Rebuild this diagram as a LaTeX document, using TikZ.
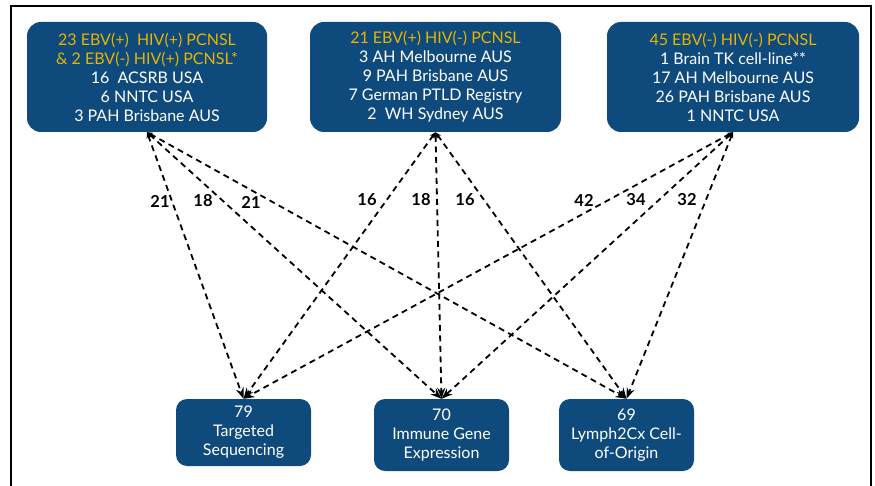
\documentclass[tikz,border=0pt]{standalone}
\usepackage{fontspec}
\setmainfont{Lato}
\usetikzlibrary{arrows.meta}
\definecolor{boxblue}{RGB}{15,74,125}
\definecolor{gold}{RGB}{232,180,0}
\begin{document}
\begin{tikzpicture}[x=1pt,y=-1pt,
  box/.style={fill=boxblue, rounded corners=14pt, text=white, align=center,
    font=\fontsize{16}{19}\selectfont, inner sep=0pt},
  link/.style={dash pattern=on 6pt off 4.5pt, line width=1.8pt,
    {Stealth[length=6pt,width=5pt]}-{Stealth[length=11pt,width=8pt]}},
  lab/.style={font=\bfseries\fontsize{16.5}{16.5}\selectfont}]
\useasboundingbox (0,0) rectangle (875,486);
% open frame
\draw[line width=2pt] (10.5,486) -- (10.5,6) -- (871,6) -- (871,486);

% cohorts
\node[box, minimum width=240pt, minimum height=110pt] (s1) at (147,77)
  {\textcolor{gold}{23 EBV(+)\ \ HIV(+) PCNSL}\\
   \textcolor{gold}{\& 2 EBV(-) HIV(+) PCNSL*}\\
   16\ \ ACSRB USA\\ 6 NNTC USA\\ 3 PAH Brisbane AUS};
\node[box, minimum width=251pt, minimum height=110pt] (s2) at (435.5,77)
  {\textcolor{gold}{21 EBV(+) HIV(-) PCNSL}\\
   3 AH Melbourne AUS\\ 9 PAH Brisbane AUS\\ 7 German PTLD Registry\\ 2\ \ WH Sydney AUS};
\node[box, minimum width=252pt, minimum height=110pt] (s3) at (733,77)
  {\textcolor{gold}{45 EBV(-) HIV(-) PCNSL}\\
   1 Brain TK cell-line**\\ 17 AH Melbourne AUS\\ 26 PAH Brisbane AUS\\ 1 NNTC USA};

% analyses
\node[box, rounded corners=11pt, minimum width=135pt, minimum height=67pt] (tA) at (243.5,432.5)
  {79\\ Targeted\\ Sequencing};
\node[box, rounded corners=11pt, minimum width=135pt, minimum height=72pt] (tB) at (441.5,435)
  {70\\ Immune Gene\\ Expression};
\node[box, rounded corners=11pt, minimum width=135pt, minimum height=72pt] (tC) at (626.5,435)
  {69\\ Lymph2Cx Cell-\\ of-Origin};

% links
\draw[link] (s1.south) -- (tA.north);
\draw[link] (s1.south) -- (tB.north);
\draw[link] (s1.south) -- (tC.north);
\draw[link] (s2.south) -- (tA.north);
\draw[link] (s2.south) -- (tB.north);
\draw[link] (s2.south) -- (tC.north);
\draw[link] (s3.south) -- (tA.north);
\draw[link] (s3.south) -- (tB.north);
\draw[link] (s3.south) -- (tC.north);

% counts
\node[lab] (n1) at (160,201) {21};
\node[lab] (n2) at (203,201) {18};
\node[lab] (n3) at (251,202) {21};
\node[lab] (n4) at (367,200) {16};
\node[lab] (n5) at (421,200) {18};
\node[lab] (n6) at (465,200) {16};
\node[lab] (n7) at (584,200) {42};
\node[lab] (n8) at (636,200) {34};
\node[lab] (n9) at (687,200) {32};
\end{tikzpicture}
\end{document}
